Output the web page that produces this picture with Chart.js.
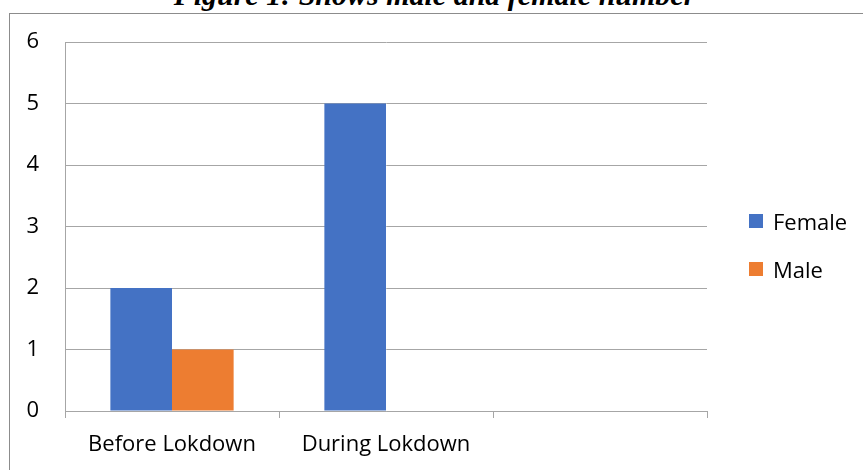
<!DOCTYPE html>
<html>
<head>
<meta charset="utf-8">
<script src="https://cdn.jsdelivr.net/npm/chart.js@4.4.1/dist/chart.umd.min.js"></script>
<style>
  html, body { margin: 0; padding: 0; background: #fff; overflow: hidden; }
  #frame { position: absolute; left: 9px; top: 13px; width: 900px; height: 500px; border: 1px solid #8c8c8c; }
  #title { position: absolute; left: 0; width: 869px; top: -20px; text-align: center; line-height: 1;
    font-family: "Liberation Serif", serif; font-style: italic; font-weight: bold; font-size: 30px; color: #000; white-space: nowrap; }
  #wrap { position: absolute; left: 0; top: 0; width: 863px; height: 470px; }
  #legend { position: absolute; left: 749px; top: 0; font-family: "Open Sans", sans-serif; font-size: 22px; color: #000; }
  .item { position: absolute; left: 0; white-space: nowrap; }
  .box { position: absolute; left: 0; width: 14px; height: 14px; }
  .lab { position: absolute; left: 24px; line-height: 1; }
</style>
</head>
<body>
<div id="frame"></div>
<div id="title">Figure 1: Shows male and female number</div>
<div id="wrap"><canvas id="chart" width="863" height="470"></canvas></div>
<div id="legend"></div>
<script>
var categories = ["Before Lokdown", "During Lokdown", ""];
var female = [2, 5, 0];
var male = [1, 0, 0];
var seriesNames = ["Female", "Male"];
var seriesColors = ["#4472C4", "#ED7D31"];
var yTicks = [0, 1, 2, 3, 4, 5, 6];

var gridGray = "#a6a6a6";
var font = { family: "'Open Sans', sans-serif", size: 22 };

var ctx = document.getElementById("chart");
var chart = new Chart(ctx, {
  type: "bar",
  data: {
    labels: categories,
    datasets: [
      { label: seriesNames[0], data: female, backgroundColor: seriesColors[0], barPercentage: 1, categoryPercentage: 0.576 },
      { label: seriesNames[1], data: male, backgroundColor: seriesColors[1], barPercentage: 1, categoryPercentage: 0.576 }
    ]
  },
  options: {
    responsive: false,
    animation: false,
    layout: { padding: { top: 42, right: 156, left: 0, bottom: 0 } },
    plugins: { legend: { display: false }, tooltip: { enabled: false }, title: { display: false } },
    scales: {
      x: {
        grid: { offset: true, drawOnChartArea: false, drawTicks: true, tickLength: 7, color: gridGray, lineWidth: 1 },
        border: { display: true, color: gridGray },
        ticks: { color: "#000", font: font, padding: 14, maxRotation: 0, autoSkip: false },
        afterFit: function (s) { s.height = 59; }
      },
      y: {
        min: yTicks[0],
        max: yTicks[yTicks.length - 1],
        grid: { color: gridGray, drawTicks: false, lineWidth: 1 },
        border: { display: true, color: gridGray },
        ticks: { color: "#000", font: font, padding: 26, stepSize: 1 },
        afterFit: function (s) { s.width = 65; }
      }
    }
  }
});

// legend from the same series arrays
var legend = document.getElementById("legend");
var rowTops = [214, 262];
seriesNames.forEach(function (name, i) {
  var item = document.createElement("div");
  item.className = "item";
  item.style.top = rowTops[i] + "px";
  item.innerHTML = '<div class="box" style="background:' + seriesColors[i] + '"></div>' +
    '<div class="lab" style="top:-4px">' + name + '</div>';
  legend.appendChild(item);
});
</script>
</body>
</html>
